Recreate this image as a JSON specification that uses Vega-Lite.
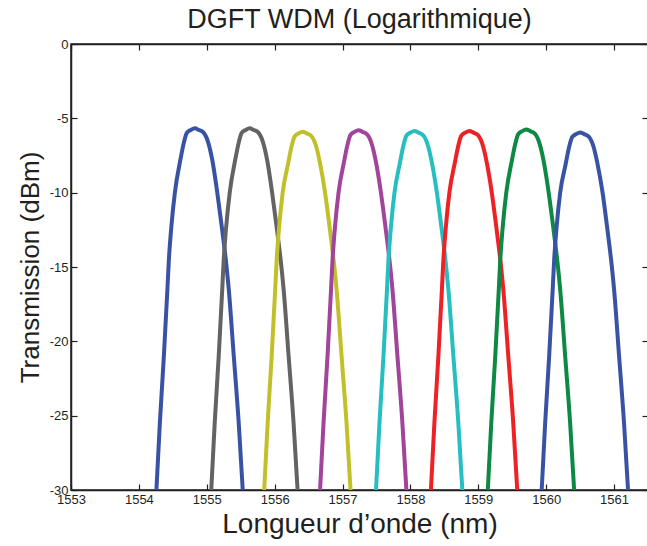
{
  "$schema": "https://vega.github.io/schema/vega-lite/v6.json",
  "width": 577,
  "height": 446,
  "autosize": "none",
  "padding": {"left": 71, "top": 44, "right": 0, "bottom": 56},
  "background": "white",
  "title": {"text": "DGFT WDM (Logarithmique)", "font": "Liberation Sans", "fontSize": 27, "fontWeight": "normal", "color": "#231f20", "offset": 4, "anchor": "middle"},
  "config": {"view": {"stroke": "#231f20", "strokeWidth": 1.5}},
  "data": {"values": [
    {"c":1,"w":1554.258,"t":-30},{"c":1,"w":1554.309,"t":-25.5},{"c":1,"w":1554.368,"t":-21},{"c":1,"w":1554.420,"t":-16.5},{"c":1,"w":1554.442,"t":-14.5},{"c":1,"w":1554.478,"t":-12.3},{"c":1,"w":1554.530,"t":-10},{"c":1,"w":1554.611,"t":-7.8},{"c":1,"w":1554.662,"t":-6.65},{"c":1,"w":1554.706,"t":-5.98},{"c":1,"w":1554.765,"t":-5.78},{"c":1,"w":1554.824,"t":-5.67},
    {"c":1,"w":1554.883,"t":-5.78},{"c":1,"w":1554.956,"t":-5.98},{"c":1,"w":1555.023,"t":-6.65},{"c":1,"w":1555.081,"t":-7.8},{"c":1,"w":1555.155,"t":-10},{"c":1,"w":1555.221,"t":-12.3},{"c":1,"w":1555.280,"t":-14.5},{"c":1,"w":1555.324,"t":-16.5},{"c":1,"w":1555.398,"t":-21},{"c":1,"w":1555.471,"t":-25.5},{"c":1,"w":1555.530,"t":-30},

    {"c":2,"w":1555.066,"t":-30},{"c":2,"w":1555.117,"t":-25.5},{"c":2,"w":1555.176,"t":-21},{"c":2,"w":1555.228,"t":-16.5},{"c":2,"w":1555.250,"t":-14.5},{"c":2,"w":1555.286,"t":-12.3},{"c":2,"w":1555.338,"t":-10},{"c":2,"w":1555.419,"t":-7.8},{"c":2,"w":1555.470,"t":-6.65},{"c":2,"w":1555.514,"t":-5.98},{"c":2,"w":1555.573,"t":-5.78},{"c":2,"w":1555.632,"t":-5.67},
    {"c":2,"w":1555.691,"t":-5.78},{"c":2,"w":1555.764,"t":-5.98},{"c":2,"w":1555.831,"t":-6.65},{"c":2,"w":1555.889,"t":-7.8},{"c":2,"w":1555.963,"t":-10},{"c":2,"w":1556.029,"t":-12.3},{"c":2,"w":1556.088,"t":-14.5},{"c":2,"w":1556.132,"t":-16.5},{"c":2,"w":1556.206,"t":-21},{"c":2,"w":1556.279,"t":-25.5},{"c":2,"w":1556.338,"t":-30},

    {"c":3,"w":1555.846,"t":-30},{"c":3,"w":1555.897,"t":-25.5},{"c":3,"w":1555.956,"t":-21},{"c":3,"w":1556.008,"t":-16.5},{"c":3,"w":1556.030,"t":-14.5},{"c":3,"w":1556.066,"t":-12.3},{"c":3,"w":1556.118,"t":-10},{"c":3,"w":1556.199,"t":-8.03},{"c":3,"w":1556.250,"t":-6.88},{"c":3,"w":1556.294,"t":-6.21},{"c":3,"w":1556.353,"t":-6.01},{"c":3,"w":1556.412,"t":-5.9},
    {"c":3,"w":1556.471,"t":-6.01},{"c":3,"w":1556.544,"t":-6.21},{"c":3,"w":1556.611,"t":-6.88},{"c":3,"w":1556.669,"t":-8.03},{"c":3,"w":1556.743,"t":-10},{"c":3,"w":1556.809,"t":-12.3},{"c":3,"w":1556.868,"t":-14.5},{"c":3,"w":1556.912,"t":-16.5},{"c":3,"w":1556.986,"t":-21},{"c":3,"w":1557.059,"t":-25.5},{"c":3,"w":1557.118,"t":-30},

    {"c":4,"w":1556.669,"t":-30},{"c":4,"w":1556.720,"t":-25.5},{"c":4,"w":1556.779,"t":-21},{"c":4,"w":1556.831,"t":-16.5},{"c":4,"w":1556.853,"t":-14.5},{"c":4,"w":1556.889,"t":-12.3},{"c":4,"w":1556.941,"t":-10},{"c":4,"w":1557.022,"t":-7.93},{"c":4,"w":1557.073,"t":-6.78},{"c":4,"w":1557.117,"t":-6.11},{"c":4,"w":1557.176,"t":-5.91},{"c":4,"w":1557.235,"t":-5.8},
    {"c":4,"w":1557.294,"t":-5.91},{"c":4,"w":1557.367,"t":-6.11},{"c":4,"w":1557.434,"t":-6.78},{"c":4,"w":1557.492,"t":-7.93},{"c":4,"w":1557.566,"t":-10},{"c":4,"w":1557.632,"t":-12.3},{"c":4,"w":1557.691,"t":-14.5},{"c":4,"w":1557.735,"t":-16.5},{"c":4,"w":1557.809,"t":-21},{"c":4,"w":1557.882,"t":-25.5},{"c":4,"w":1557.941,"t":-30},

    {"c":5,"w":1557.493,"t":-30},{"c":5,"w":1557.544,"t":-25.5},{"c":5,"w":1557.603,"t":-21},{"c":5,"w":1557.655,"t":-16.5},{"c":5,"w":1557.677,"t":-14.5},{"c":5,"w":1557.713,"t":-12.3},{"c":5,"w":1557.765,"t":-10},{"c":5,"w":1557.846,"t":-7.98},{"c":5,"w":1557.897,"t":-6.83},{"c":5,"w":1557.941,"t":-6.16},{"c":5,"w":1558.000,"t":-5.96},{"c":5,"w":1558.059,"t":-5.85},
    {"c":5,"w":1558.118,"t":-5.96},{"c":5,"w":1558.191,"t":-6.16},{"c":5,"w":1558.258,"t":-6.83},{"c":5,"w":1558.316,"t":-7.98},{"c":5,"w":1558.390,"t":-10},{"c":5,"w":1558.456,"t":-12.3},{"c":5,"w":1558.515,"t":-14.5},{"c":5,"w":1558.559,"t":-16.5},{"c":5,"w":1558.633,"t":-21},{"c":5,"w":1558.706,"t":-25.5},{"c":5,"w":1558.765,"t":-30},

    {"c":6,"w":1558.302,"t":-30},{"c":6,"w":1558.353,"t":-25.5},{"c":6,"w":1558.412,"t":-21},{"c":6,"w":1558.464,"t":-16.5},{"c":6,"w":1558.486,"t":-14.5},{"c":6,"w":1558.522,"t":-12.3},{"c":6,"w":1558.574,"t":-10},{"c":6,"w":1558.655,"t":-7.98},{"c":6,"w":1558.706,"t":-6.83},{"c":6,"w":1558.750,"t":-6.16},{"c":6,"w":1558.809,"t":-5.96},{"c":6,"w":1558.868,"t":-5.85},
    {"c":6,"w":1558.927,"t":-5.96},{"c":6,"w":1559.000,"t":-6.16},{"c":6,"w":1559.067,"t":-6.83},{"c":6,"w":1559.125,"t":-7.98},{"c":6,"w":1559.199,"t":-10},{"c":6,"w":1559.265,"t":-12.3},{"c":6,"w":1559.324,"t":-14.5},{"c":6,"w":1559.368,"t":-16.5},{"c":6,"w":1559.442,"t":-21},{"c":6,"w":1559.515,"t":-25.5},{"c":6,"w":1559.574,"t":-30},

    {"c":7,"w":1559.140,"t":-30},{"c":7,"w":1559.191,"t":-25.5},{"c":7,"w":1559.250,"t":-21},{"c":7,"w":1559.302,"t":-16.5},{"c":7,"w":1559.324,"t":-14.5},{"c":7,"w":1559.360,"t":-12.3},{"c":7,"w":1559.412,"t":-10},{"c":7,"w":1559.493,"t":-7.88},{"c":7,"w":1559.544,"t":-6.73},{"c":7,"w":1559.588,"t":-6.06},{"c":7,"w":1559.647,"t":-5.86},{"c":7,"w":1559.706,"t":-5.75},
    {"c":7,"w":1559.765,"t":-5.86},{"c":7,"w":1559.838,"t":-6.06},{"c":7,"w":1559.905,"t":-6.73},{"c":7,"w":1559.963,"t":-7.88},{"c":7,"w":1560.037,"t":-10},{"c":7,"w":1560.103,"t":-12.3},{"c":7,"w":1560.162,"t":-14.5},{"c":7,"w":1560.206,"t":-16.5},{"c":7,"w":1560.280,"t":-21},{"c":7,"w":1560.353,"t":-25.5},{"c":7,"w":1560.412,"t":-30},

    {"c":8,"w":1559.934,"t":-30},{"c":8,"w":1559.985,"t":-25.5},{"c":8,"w":1560.044,"t":-21},{"c":8,"w":1560.096,"t":-16.5},{"c":8,"w":1560.118,"t":-14.5},{"c":8,"w":1560.154,"t":-12.3},{"c":8,"w":1560.206,"t":-10},{"c":8,"w":1560.287,"t":-8.08},{"c":8,"w":1560.338,"t":-6.93},{"c":8,"w":1560.382,"t":-6.26},{"c":8,"w":1560.441,"t":-6.06},{"c":8,"w":1560.500,"t":-5.95},
    {"c":8,"w":1560.559,"t":-6.06},{"c":8,"w":1560.632,"t":-6.26},{"c":8,"w":1560.699,"t":-6.93},{"c":8,"w":1560.757,"t":-8.08},{"c":8,"w":1560.831,"t":-10},{"c":8,"w":1560.897,"t":-12.3},{"c":8,"w":1560.956,"t":-14.5},{"c":8,"w":1561.000,"t":-16.5},{"c":8,"w":1561.074,"t":-21},{"c":8,"w":1561.147,"t":-25.5},{"c":8,"w":1561.206,"t":-30}
  ]},
  "layer": [
    {
      "mark": {"type": "line", "strokeWidth": 4, "interpolate": "monotone", "clip": true},
      "encoding": {
        "x": {"field": "w", "type": "quantitative",
              "scale": {"domain": [1553, 1561.5], "nice": false, "zero": false},
              "axis": {"orient": "bottom", "values": [1553,1554,1555,1556,1557,1558,1559,1560,1561], "labelExpr": "toString(datum.value)",
                       "title": "Longueur d’onde (nm)", "titleFont": "Liberation Sans", "titleFontSize": 28, "titleFontWeight": "normal", "titleColor": "#231f20", "titlePadding": 4,
                       "labelFont": "Liberation Sans", "labelFontSize": 13, "labelColor": "#231f20", "labelPadding": 9,
                       "tickSize": -6, "tickColor": "#231f20", "tickWidth": 1.2, "domainColor": "#231f20", "domainWidth": 1.5, "grid": false, "labelFlush": false, "labelOverlap": false}},
        "y": {"field": "t", "type": "quantitative",
              "scale": {"domain": [-30, 0], "nice": false, "zero": false},
              "axis": {"orient": "left", "values": [-30,-25,-20,-15,-10,-5,0], "labelExpr": "toString(datum.value)",
                       "title": "Transmission (dBm)", "titleFont": "Liberation Sans", "titleFontSize": 26, "titleFontWeight": "normal", "titleColor": "#231f20", "titlePadding": 6,
                       "labelFont": "Liberation Sans", "labelFontSize": 13, "labelColor": "#231f20", "labelPadding": 9,
                       "tickSize": -6, "tickColor": "#231f20", "tickWidth": 1.2, "domainColor": "#231f20", "domainWidth": 1.5, "grid": false, "labelFlush": false, "labelOverlap": false}},
        "color": {"field": "c", "type": "nominal", "legend": null,
                  "scale": {"domain": [1,2,3,4,5,6,7,8], "range": ["#3953a4", "#636363", "#c1c02b", "#a1449b", "#26bec0", "#ee2125", "#0d8944", "#3953a4"]}}
      }
    },
    {
      "mark": {"type": "point", "opacity": 0},
      "encoding": {
        "x": {"field": "w", "type": "quantitative", "scale": {"domain": [1553, 1561.5], "nice": false, "zero": false},
              "axis": {"orient": "top", "values": [1553,1554,1555,1556,1557,1558,1559,1560,1561], "labels": false, "title": null, "tickSize": -6, "tickColor": "#231f20", "tickWidth": 1.2, "domainColor": "#231f20", "domainWidth": 1.5, "grid": false}},
        "y": {"field": "t", "type": "quantitative", "scale": {"domain": [-30, 0], "nice": false, "zero": false},
              "axis": {"orient": "right", "values": [-30,-25,-20,-15,-10,-5,0], "labels": false, "title": null, "tickSize": -6, "tickColor": "#231f20", "tickWidth": 1.2, "domainColor": "#231f20", "domainWidth": 1.5, "grid": false}}
      }
    }
  ],
  "resolve": {"axis": {"x": "independent", "y": "independent"}}
}
